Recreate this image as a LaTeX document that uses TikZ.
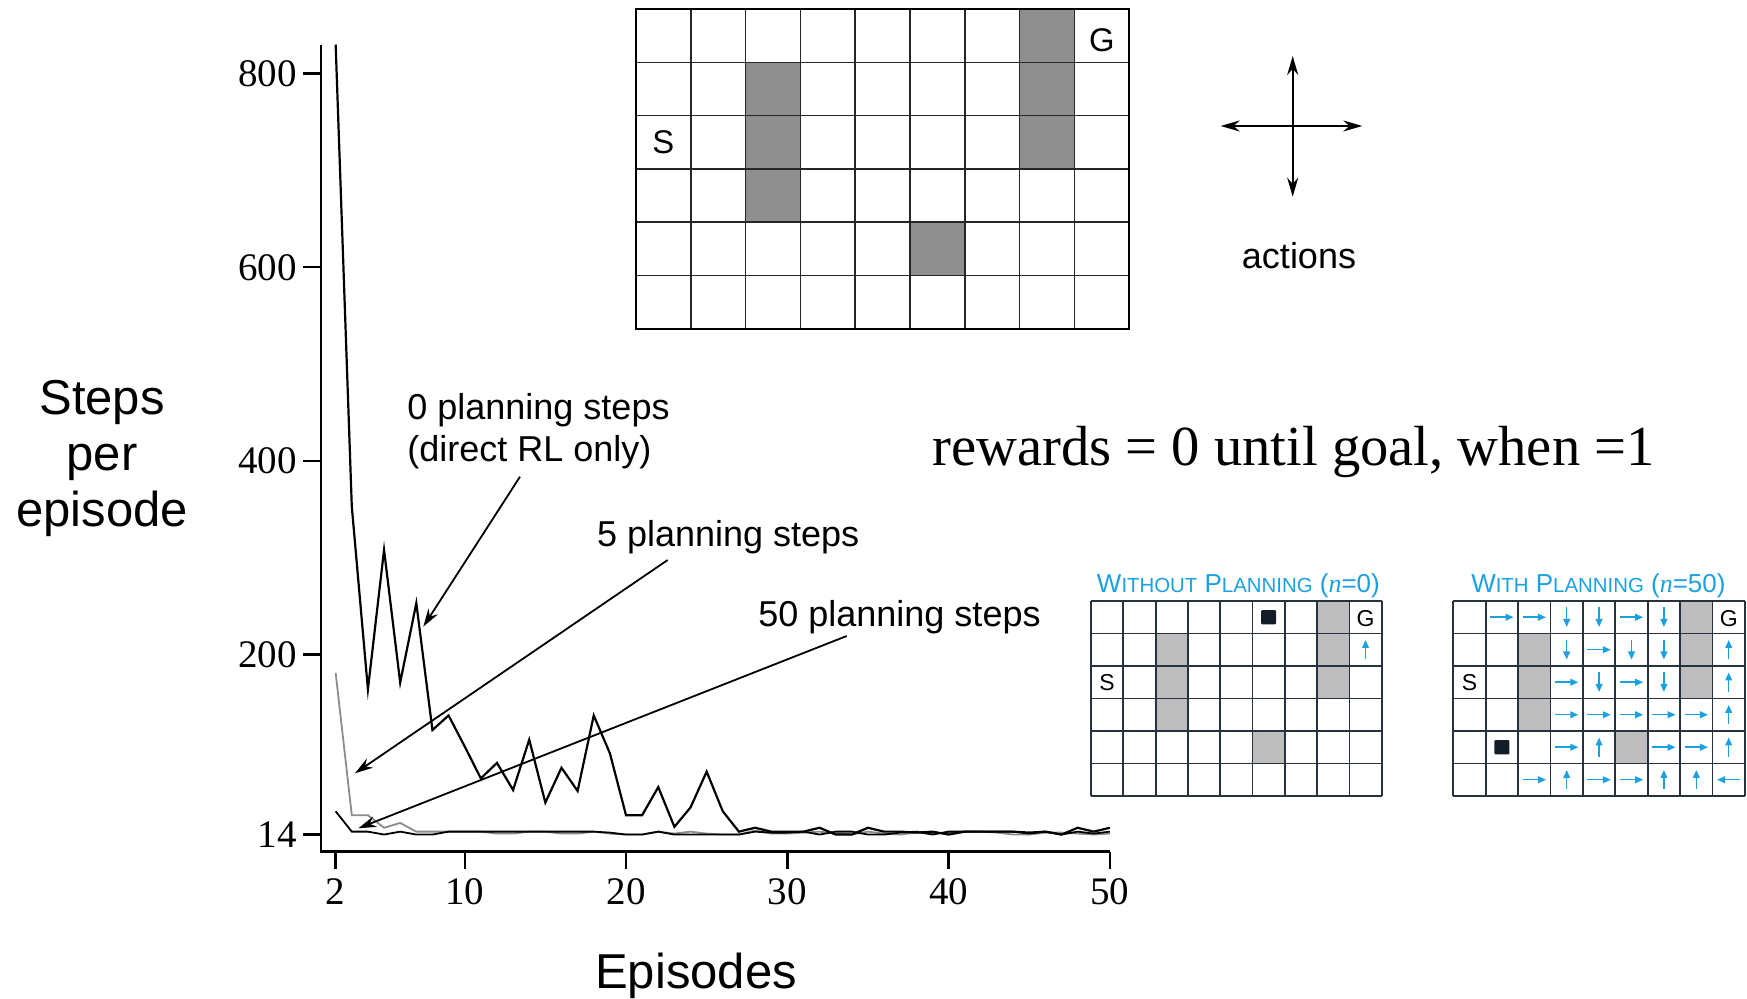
\documentclass[tikz,border=0pt]{standalone}
\usepackage{fontspec}
\setmainfont{Liberation Serif}
\setsansfont{Liberation Sans}
\usetikzlibrary{arrows.meta}

\definecolor{wallbig}{HTML}{8F8F8F}
\definecolor{wallsmall}{HTML}{BDBDBD}
\definecolor{gridnavy}{HTML}{27323F}
\definecolor{policy}{HTML}{1BA1E2}
\definecolor{agent}{HTML}{141C27}
\definecolor{curvegray}{HTML}{8C8C8C}

% fake small capitals for the panel titles
\newcommand\fakesc[1]{{\fontsize{10.2pt}{10.2pt}\selectfont #1}}

\begin{document}
\begin{tikzpicture}[x=0.5pt,y=-0.5pt,
  lab/.style={font=\sffamily\fontsize{18pt}{20.85pt}\selectfont, inner sep=0pt},
  ticklab/.style={font=\fontsize{19.5pt}{19.5pt}\selectfont, inner sep=0pt},
  axisline/.style={line width=1.2pt},
  pointer/.style={line width=0.9pt, -{Stealth[length=9pt,width=5.5pt]}},
  curvezero/.style={line width=1.1pt, black},
  curvefive/.style={line width=0.9pt, curvegray},
  curvefifty/.style={line width=0.9pt, black},
  biggrid/.style={line width=0.75pt, black!85},
  smallgrid/.style={line width=0.9pt, gridnavy},
  pol/.style={line width=0.75pt, policy, -{Triangle[length=4pt,width=3.4pt]}},
  cellchar/.style={font=\sffamily\fontsize{11.5pt}{11.5pt}\selectfont, inner sep=0pt},
  title/.style={font=\sffamily\fontsize{13pt}{13pt}\selectfont, text=policy, inner sep=0pt}
]
\useasboundingbox (0,0) rectangle (1747,999);

% ---------------- learning curves ----------------
\begin{scope}[shift={(303.4,848.1)}, x=8.065pt, y=0.484pt]
  \draw[curvefive] plot coordinates {(2,181) (3,34) (4,34) (5,21) (6,26) (7,17) (8,17) (9,17) (10,17) (11,17) (12,15) (13,15) (14,17) (15,17) (16,15) (17,15) (18,17) (19,15) (20,14) (21,14) (22,17) (23,15) (24,17) (25,15) (26,14) (27,14) (28,18) (29,15) (30,15) (31,16) (32,17) (33,15) (34,14) (35,17) (36,15) (37,14) (38,16) (39,15) (40,16) (41,17) (42,17) (43,16) (44,14) (45,14) (46,16) (47,16) (48,15) (49,14) (50,15)};
  \draw[curvefifty] plot coordinates {(2,38) (3,17) (4,17) (5,14) (6,17) (7,14) (8,14) (9,17) (10,17) (11,17) (12,17) (13,17) (14,17) (15,17) (16,17) (17,17) (18,17) (19,16) (20,14) (21,14) (22,17) (23,14) (24,14) (25,14) (26,14) (27,14) (28,17) (29,16) (30,16) (31,17) (32,14) (33,17) (34,17) (35,14) (36,14) (37,16) (38,17) (39,14) (40,17) (41,17) (42,17) (43,17) (44,17) (45,15) (46,17) (47,14) (48,17) (49,15) (50,17)};
  \draw[curvezero] plot coordinates {(2,830) (3,353) (4,164) (5,308) (6,171) (7,253) (8,122) (9,137) (10,105) (11,72) (12,88) (13,60) (14,112) (15,47) (16,83) (17,59) (18,137) (19,98) (20,34) (21,34) (22,63) (23,22) (24,42) (25,79) (26,38) (27,17) (28,21) (29,17) (30,17) (31,17) (32,21) (33,14) (34,14) (35,21) (36,17) (37,17) (38,16) (39,17) (40,14) (41,17) (42,17) (43,17) (44,17) (45,16) (46,17) (47,14) (48,21) (49,17) (50,21)};
\end{scope}

% axes
\draw[axisline] (320.7,44.7) -- (320.7,851.7) -- (1110,851.7);
\foreach \v in {14,200,400,600,800}{
  \draw[axisline] (303,848.1-0.968*\v) -- (320.7,848.1-0.968*\v);
  \node[ticklab, anchor=base east] (ytick\v) at (297,848.1-0.968*\v+13) {\v};
}
\foreach \e in {2,10,20,30,40,50}{
  \draw[axisline] (303.4+16.13*\e,851.7) -- (303.4+16.13*\e,869);
  \node[ticklab, anchor=base] (xtick\e) at (303.4+16.13*\e,905) {\e};
}

% axis titles
\node[font=\sffamily\fontsize{24.5pt}{28pt}\selectfont, align=center, inner sep=0pt] (ylab) at (102,458) {Steps\\per\\episode};
\node[font=\sffamily\fontsize{24.5pt}{28pt}\selectfont, anchor=base, inner sep=0pt] (xlab) at (696,988) {Episodes};

% curve labels and pointers
\node[lab, anchor=north west, align=left] (lzero) at (407,393.5) {0 planning steps\\(direct RL only)};
\node[lab, anchor=base west] (lfive) at (596.7,546.7) {5 planning steps};
\node[lab, anchor=base west] (lfifty) at (758,626.7) {50 planning steps};
\coordinate (pzs) at (520,476.7);
\coordinate (pze) at (423.3,626.7);
\coordinate (pfs) at (667.7,560);
\coordinate (pfe) at (355,773.3);
\coordinate (pffs) at (846.7,636);
\coordinate (pffe) at (358.3,828.3);
\draw[pointer] (pzs) -- (pze);
\draw[pointer] (pfs) -- (pfe);
\draw[pointer] (pffs) -- (pffe);

% ---------------- large maze ----------------
\begin{scope}[shift={(636,9)}, x=27.4pt, y=-26.65pt]
  \foreach \c/\r in {2/1,2/2,2/3,7/0,7/1,7/2,5/4}
    \fill[wallbig] (\c,\r) rectangle ++(1,1);
  \foreach \i in {1,...,8} \draw[biggrid] (\i,0) -- (\i,6);
  \foreach \j in {1,...,5} \draw[biggrid] (0,\j) -- (9,\j);
  \draw[line width=1.2pt] (0,0) rectangle (9,6);
  \node[font=\sffamily\fontsize{16.4pt}{16.4pt}\selectfont, inner sep=0pt] (bigS) at (0.5,2.5) {S};
  \node[font=\sffamily\fontsize{16.4pt}{16.4pt}\selectfont, inner sep=0pt] (bigG) at (8.5,0.58) {G};
\end{scope}

% actions
\coordinate (actc) at (1292.7,126);
\draw[line width=1pt, -{Stealth[length=9.5pt,width=5.5pt]}] (actc) -- ++(0,-70);
\draw[line width=1pt, -{Stealth[length=9.5pt,width=5.5pt]}] (actc) -- ++(0,70.7);
\draw[line width=1pt, -{Stealth[length=9.5pt,width=5.5pt]}] (actc) -- ++(-72,0);
\draw[line width=1pt, -{Stealth[length=9.5pt,width=5.5pt]}] (actc) -- ++(69.6,0);
\node[lab, anchor=base] (actlab) at (1299,268.3) {actions};

% reward note
\node[font=\fontsize{28.3pt}{28.3pt}\selectfont, anchor=base, inner sep=0pt] (rew) at (1293.5,466) {rewards = 0 until goal, when =1};

% ---------------- policy panels ----------------
\node[title, anchor=base] (tnoplan) at (1238.4,593) {W\fakesc{ITHOUT} P\fakesc{LANNING} ({\rmfamily\itshape n}=0)};
\node[title, anchor=base] (tplan) at (1598.4,593) {W\fakesc{ITH} P\fakesc{LANNING} ({\rmfamily\itshape n}=50)};

\begin{scope}[shift={(1091,601)}, x=16.15pt, y=-16.25pt]
  \foreach \c/\r in {2/1,2/2,2/3,7/0,7/1,7/2,5/4}
    \fill[wallsmall] (\c,\r) rectangle ++(1,1);
  \foreach \i in {0,...,9} \draw[smallgrid] (\i,0) -- (\i,6);
  \foreach \j in {0,...,6} \draw[smallgrid] (0,\j) -- (9,\j);
  \fill[agent, rounded corners=0.5pt] (5.27,0.28) rectangle (5.73,0.72);
  \draw[pol] (8.5,1.8) -- (8.5,1.2);
  \node[cellchar] (noS) at (0.5,2.5) {S};
  \node[cellchar] (noG) at (8.5,0.55) {G};
\end{scope}

\begin{scope}[shift={(1453.3,601)}, x=16.2pt, y=-16.25pt]
  \foreach \c/\r in {2/1,2/2,2/3,7/0,7/1,7/2,5/4}
    \fill[wallsmall] (\c,\r) rectangle ++(1,1);
  \foreach \i in {0,...,9} \draw[smallgrid] (\i,0) -- (\i,6);
  \foreach \j in {0,...,6} \draw[smallgrid] (0,\j) -- (9,\j);
  \fill[agent, rounded corners=0.5pt] (1.27,4.28) rectangle (1.73,4.72);
  \foreach \c/\r in {1/0,2/0,5/0,4/1,3/2,5/2,3/3,4/3,5/3,6/3,7/3,3/4,6/4,7/4,2/5,4/5,5/5}
    \draw[pol] (\c+0.14,\r+0.5) -- (\c+0.86,\r+0.5);
  \foreach \c/\r in {8/5}
    \draw[pol] (\c+0.86,\r+0.5) -- (\c+0.14,\r+0.5);
  \foreach \c/\r in {3/0,4/0,6/0,3/1,5/1,6/1,4/2,6/2}
    \draw[pol] (\c+0.5,\r+0.2) -- (\c+0.5,\r+0.8);
  \foreach \c/\r in {8/1,8/2,8/3,4/4,8/4,3/5,6/5,7/5}
    \draw[pol] (\c+0.5,\r+0.8) -- (\c+0.5,\r+0.2);
  \node[cellchar] (wS) at (0.5,2.5) {S};
  \node[cellchar] (wG) at (8.5,0.55) {G};
\end{scope}
\end{tikzpicture}
\end{document}
